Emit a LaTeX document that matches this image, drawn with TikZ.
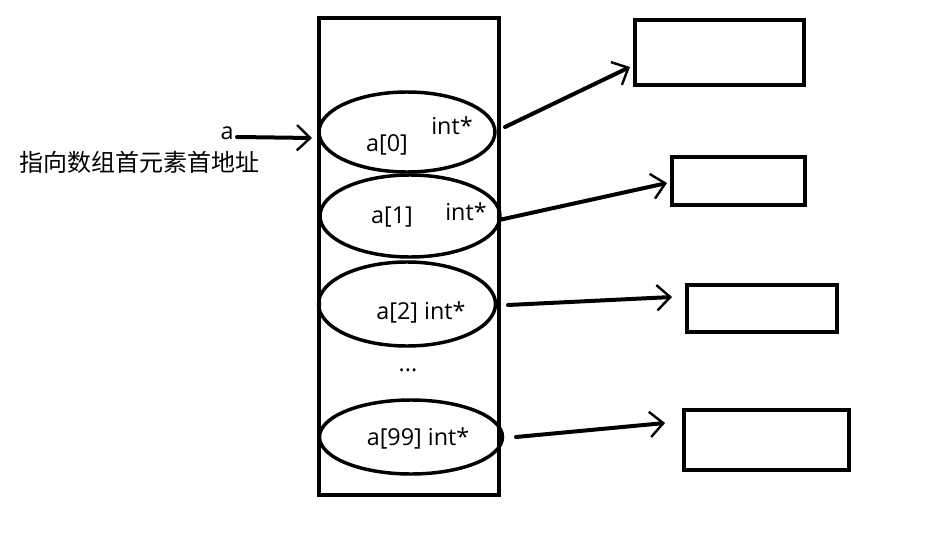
\documentclass[tikz,border=0pt]{standalone}
\usepackage{fontspec}
\setmainfont{Open Sans}
\newfontfamily\cjk{Noto Sans CJK SC}
\usetikzlibrary{shapes.geometric,arrows.meta}
\tikzset{
  cell/.style={draw, line width=2.6pt, ellipse, inner sep=0pt},
  box/.style={draw, line width=3.2pt, rectangle, inner sep=0pt},
  lbl/.style={inner sep=0pt, font=\fontsize{17.5}{20}\selectfont},
  ptr/.style={line width=3pt, line cap=round, -{Straight Barb[length=10pt, width=19pt, line width=1.8pt]}}
}
\begin{document}
\begin{tikzpicture}[x=0.75pt, y=-0.75pt]
\useasboundingbox (0,0) rectangle (932,539);
% array block
\node[box, line width=2.8pt, minimum width=180*0.75pt, minimum height=477*0.75pt, anchor=north west] (arr) at (317,16) {};
% cells
\node[cell, minimum width=176*0.75pt, minimum height=80*0.75pt] (e0) at (407,132) {};
\node[cell, minimum width=180*0.75pt, minimum height=82*0.75pt] (e1) at (410,216) {};
\node[cell, minimum width=177*0.75pt, minimum height=84*0.75pt] (e2) at (407,304) {};
\node[cell, minimum width=183*0.75pt, minimum height=74*0.75pt] (e99) at (411,437) {};
% cell labels
\node[lbl] (l0) at (387,145) {a[0]};
\node[lbl] (t0) at (452,126) {int*};
\node[lbl] (l1) at (392,217) {a[1]};
\node[lbl] (t1) at (466,212) {int*};
\node[lbl] (l2) at (421,312) {a[2] int*};
\node[lbl] (dots) at (408,370) {...};
\node[lbl] (l99) at (418,438) {a[99] int*};
% pointer a
\node[lbl] (pa) at (227,133) {a};
\node[inner sep=0pt, font=\cjk\fontsize{18}{20}\selectfont] (desc) at (139,162) {指向数组首元素首地址};
\coordinate (pas) at (237,137);
\coordinate (pat) at (312,138);
\draw[ptr] (pas) -- (pat);
% target boxes
\node[box, minimum width=169*0.75pt, minimum height=65*0.75pt, anchor=north west] (b0) at (633,18) {};
\node[box, minimum width=133*0.75pt, minimum height=48*0.75pt, anchor=north west] (b1) at (670,155) {};
\node[box, minimum width=150*0.75pt, minimum height=47*0.75pt, anchor=north west] (b2) at (685,283) {};
\node[box, minimum width=165*0.75pt, minimum height=60*0.75pt, anchor=north west] (b3) at (682,408) {};
% arrows
\coordinate (s0) at (505,127); \coordinate (d0) at (630,67);
\coordinate (s1) at (499,220); \coordinate (d1) at (667,183);
\coordinate (s2) at (508,305); \coordinate (d2) at (672,297);
\coordinate (s3) at (516,437); \coordinate (d3) at (665,423);
\draw[ptr] (s0) -- (d0);
\draw[ptr] (s1) -- (d1);
\draw[ptr] (s2) -- (d2);
\draw[ptr] (s3) -- (d3);
\end{tikzpicture}
\end{document}
